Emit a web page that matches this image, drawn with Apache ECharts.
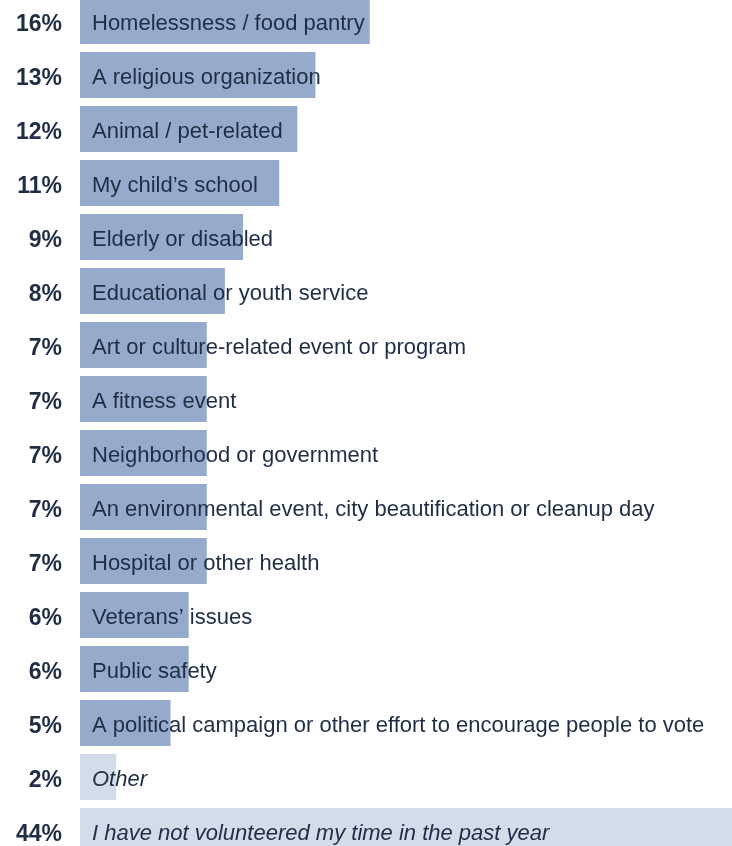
<!DOCTYPE html>
<html>
<head>
<meta charset="utf-8">
<style>
  html, body { margin: 0; padding: 0; background: #ffffff; overflow: hidden; }
  body { position: relative; width: 732px; height: 846px; }
  /* the plot runs slightly past the top and bottom edges of the page */
  #chart { position: absolute; left: 0; top: -6px; width: 732px; height: 864px; }
</style>
<script src="https://cdn.jsdelivr.net/npm/echarts@6/dist/echarts.min.js"></script>
</head>
<body>
<div id="chart"></div>
<script>
// Volunteering activities in the past year (share of respondents, %)
const categories = [
  'Homelessness / food pantry',
  'A religious organization',
  'Animal / pet-related',
  'My child\u2019s school',
  'Elderly or disabled',
  'Educational or youth service',
  'Art or culture-related event or program',
  'A fitness event',
  'Neighborhood or government',
  'An environmental event, city beautification or cleanup day',
  'Hospital or other health',
  'Veterans\u2019 issues',
  'Public safety',
  'A political campaign or other effort to encourage people to vote',
  'Other',
  'I have not volunteered my time in the past year'
];
const values = [16, 13, 12, 11, 9, 8, 7, 7, 7, 7, 7, 6, 6, 5, 2, 44];
// Answers shown in a lighter tone and italic type
const secondary = ['Other', 'I have not volunteered my time in the past year'];

const FONT = '"Liberation Sans", Arial, Helvetica, sans-serif';
const TEXT = '#1f2d45';
const BAR = '#96abcc';
const BAR_LIGHT = '#d3dde9';

const seriesData = values.map((v, i) => {
  const light = secondary.includes(categories[i]);
  return {
    value: v,
    itemStyle: { color: light ? BAR_LIGHT : BAR },
    label: { fontStyle: light ? 'italic' : 'normal' }
  };
});

const chart = echarts.init(document.getElementById('chart'), null, { renderer: 'canvas' });
chart.setOption({
  animation: false,
  backgroundColor: '#ffffff',
  grid: { left: 80, right: 0, top: 0, bottom: 0, containLabel: false },
  xAxis: {
    type: 'value',
    min: 0,
    max: 36,
    show: false
  },
  yAxis: {
    type: 'category',
    data: categories,
    inverse: true,
    axisLine: { show: false },
    axisTick: { show: false },
    splitLine: { show: false },
    axisLabel: {
      margin: 18,
      formatter: (val, idx) => '{pct|' + values[idx] + '%}',
      rich: {
        pct: {
          color: TEXT,
          fontFamily: FONT,
          fontWeight: 'bold',
          fontSize: 23,
          padding: [7, 0, 0, 0]
        }
      }
    }
  },
  series: [{
    type: 'bar',
    data: seriesData,
    barWidth: 46,
    clip: true,
    label: {
      show: true,
      position: 'insideLeft',
      distance: 12,
      offset: [0, 3],
      color: TEXT,
      fontFamily: FONT,
      fontSize: 22,
      formatter: p => categories[p.dataIndex]
    }
  }]
});
</script>
</body>
</html>
